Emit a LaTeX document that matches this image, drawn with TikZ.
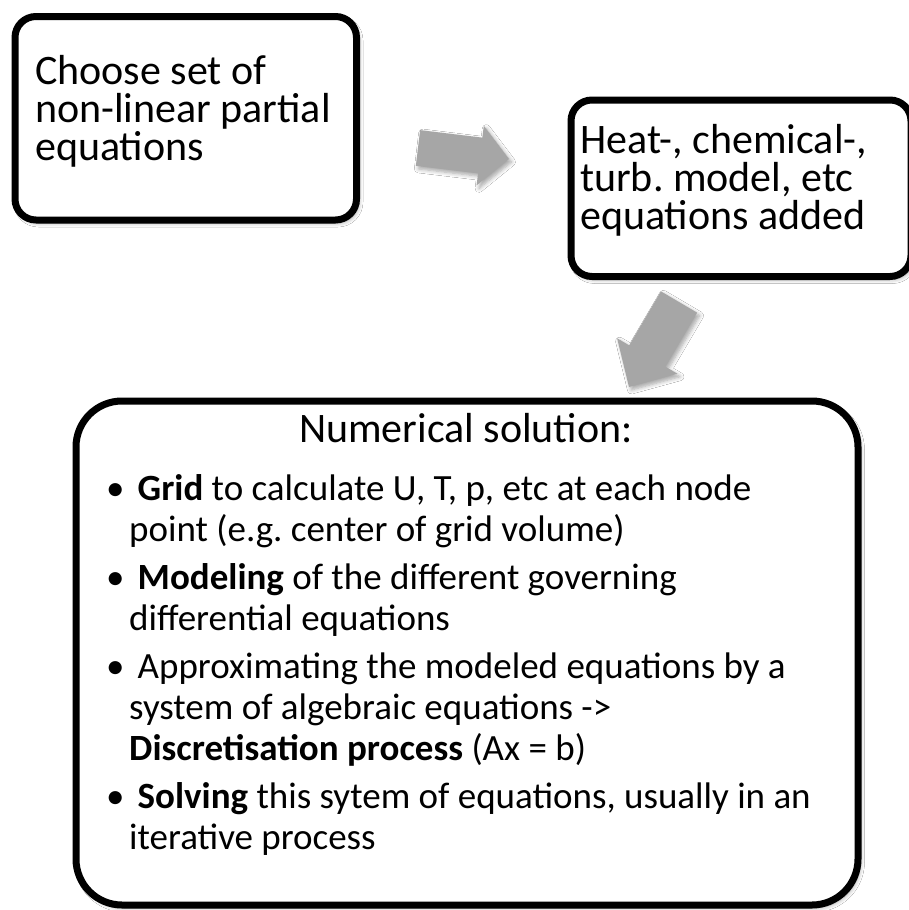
\documentclass[tikz,border=0pt]{standalone}
\usepackage{fontspec}
\setmainfont{Carlito}
\usetikzlibrary{calc,shadows.blur}

\definecolor{arrowgray}{HTML}{A6A6A6}

\tikzset{
  softshadow/.style={blur shadow={shadow xshift=2.5pt, shadow yshift=-3pt,
      shadow blur radius=4pt, shadow blur steps=6, shadow opacity=35}},
  panel/.style={draw=black, line width=7pt, fill=white, rounded corners=21pt,
      softshadow, inner sep=0pt},
  bigpanel/.style={panel, rounded corners=46pt},
  blockarrow/.style={fill=arrowgray, draw=none, softshadow},
  bigtext/.style={anchor=base west, inner sep=0pt, text height=27pt, text depth=9pt,
      font=\fontsize{42}{46}\selectfont},
  bodytext/.style={anchor=base west, inner sep=0pt, text height=26pt, text depth=9pt,
      font=\fontsize{37}{41}\selectfont},
  bodytitle/.style={anchor=base, inner sep=0pt, text height=29pt, text depth=9pt,
      font=\fontsize{42}{46}\selectfont},
}

\begin{document}
\frenchspacing
\begin{tikzpicture}[x=1pt, y=-1pt]
  \useasboundingbox (0,0) rectangle (909,910);
  \fill[white] (0,0) rectangle (909,910);

  % the three panels
  \node[panel, minimum width=341.5pt, minimum height=203.5pt] (b1) at (185.75,118.25) {};
  \node[panel, minimum width=340pt, minimum height=176.5pt] (b2) at (741,188.25) {};
  \node[bigpanel, minimum width=782pt, minimum height=504pt] (b3) at (467,653) {};

  % block arrow from the first panel towards the second
  \coordinate (a1t) at (418,148);
  \coordinate (a1p) at (509,159);
  \coordinate (a1h) at ($(a1p)!29pt!(a1t)$);
  \fill[blockarrow]
    ($(a1t)!18pt!90:(a1p)$) -- ($(a1h)!18pt!90:(a1p)$) -- ($(a1h)!30pt!90:(a1p)$)
    -- (a1p)
    -- ($(a1h)!30pt!-90:(a1p)$) -- ($(a1h)!18pt!-90:(a1p)$) -- ($(a1t)!18pt!-90:(a1p)$)
    -- cycle;

  % block arrow from the second panel down to the numerical solution
  \coordinate (a2t) at (679,302);
  \coordinate (a2p) at (629,387);
  \coordinate (a2h) at ($(a2p)!36pt!(a2t)$);
  \fill[blockarrow]
    ($(a2t)!21pt!90:(a2p)$) -- ($(a2h)!21pt!90:(a2p)$) -- ($(a2h)!35pt!90:(a2p)$)
    -- (a2p)
    -- ($(a2h)!35pt!-90:(a2p)$) -- ($(a2h)!21pt!-90:(a2p)$) -- ($(a2t)!21pt!-90:(a2p)$)
    -- cycle;

  % first panel text
  \node[bigtext] (t1a) at (35,84)  {Choose set of};
  \node[bigtext] (t1b) at (35,122) {non-linear partial};
  \node[bigtext] (t1c) at (35,160) {equations};

  % second panel text
  \node[bigtext] (t2a) at (580,153) {Heat-, chemical-,};
  \node[bigtext] (t2b) at (580,191) {turb. model, etc};
  \node[bigtext] (t2c) at (580,229) {equations added};

  % numerical solution panel
  \node[bodytitle] (t3) at (466,442) {Numerical solution:};

  \node[bodytext] (u1) at (106,500) {•};
  \node[bodytext] (l1) at (137.5,500) {\textbf{Grid} to calculate U, T, p, etc at each node};
  \node[bodytext] (l2) at (129,541)   {point (e.g. center of grid volume)};

  \node[bodytext] (u2) at (106,589) {•};
  \node[bodytext] (l3) at (137.5,589) {\textbf{Modeling} of the different governing};
  \node[bodytext] (l4) at (129,630)   {differential equations};

  \node[bodytext] (u3) at (106,678) {•};
  \node[bodytext] (l5) at (137.5,678) {Approximating the modeled equations by a};
  \node[bodytext] (l6) at (129,719)   {system of algebraic equations ->};
  \node[bodytext] (l7) at (129,760)   {\textbf{Discretisation process} (Ax = b)};

  \node[bodytext] (u4) at (106,808) {•};
  \node[bodytext] (l8) at (137.5,808) {\textbf{Solving} this sytem of equations, usually in an};
  \node[bodytext] (l9) at (129,849)   {iterative process};
\end{tikzpicture}
\end{document}
